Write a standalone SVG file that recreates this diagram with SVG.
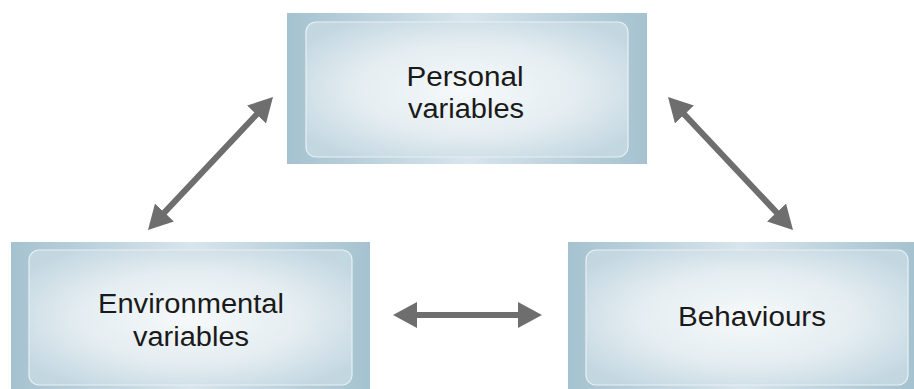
<svg xmlns="http://www.w3.org/2000/svg" width="914" height="389" viewBox="0 0 914 389">
<defs>
<linearGradient id="outerG" x1="0" y1="0" x2="1" y2="0">
<stop offset="0" stop-color="#a5c2d0"/>
<stop offset="0.5" stop-color="#d8e5ec"/>
<stop offset="1" stop-color="#a5c2d0"/>
</linearGradient>
<radialGradient id="innerG" cx="0.5" cy="0.5" r="0.62">
<stop offset="0" stop-color="#f6f9fa"/>
<stop offset="0.55" stop-color="#e4edf1"/>
<stop offset="1" stop-color="#c3d7e1"/>
</radialGradient>
<marker id="ah" viewBox="0 0 24 26" refX="4" refY="13" markerWidth="24" markerHeight="26" markerUnits="userSpaceOnUse" orient="auto-start-reverse">
<path d="M0,0 L24,13 L0,26 z" fill="#6e6e6e"/>
</marker>
</defs>
<style>
.outer{fill:url(#outerG)}
.inner{fill:url(#innerG);stroke:#e8f0f4;stroke-width:1.2}
.lbl{font-family:"Liberation Sans",Arial,sans-serif;font-size:27px;fill:#1a1a1a;text-anchor:middle}
.conn{stroke:#6e6e6e;stroke-width:6;fill:none;marker-start:url(#ah);marker-end:url(#ah)}
</style>
<rect width="914" height="389" fill="#ffffff"/>
<g id="personal">
<rect class="outer" x="287" y="13" width="360" height="151"/>
<rect class="inner" x="306" y="22" width="322" height="135" rx="10"/>
<text class="lbl" x="465" y="85.5" textLength="117" lengthAdjust="spacingAndGlyphs">Personal</text>
<text class="lbl" x="466" y="118" textLength="116" lengthAdjust="spacingAndGlyphs">variables</text>
</g>
<g id="environmental">
<rect class="outer" x="11" y="242" width="359" height="150"/>
<rect class="inner" x="29" y="250" width="323" height="135" rx="10"/>
<text class="lbl" x="191" y="313" textLength="186" lengthAdjust="spacingAndGlyphs">Environmental</text>
<text class="lbl" x="191" y="346" textLength="116" lengthAdjust="spacingAndGlyphs">variables</text>
</g>
<g id="behaviours">
<rect class="outer" x="568" y="242" width="346" height="150"/>
<rect class="inner" x="586" y="250" width="322" height="135" rx="10"/>
<text class="lbl" x="752" y="325.5" textLength="148" lengthAdjust="spacingAndGlyphs">Behaviours</text>
</g>
<g id="connectors">
<line class="conn" x1="161.7" y1="215.4" x2="259.3" y2="111.6"/>
<line class="conn" x1="681.7" y1="111.6" x2="779.3" y2="215.4"/>
<line class="conn" x1="413" y1="315" x2="522" y2="315"/>
</g>
</svg>
